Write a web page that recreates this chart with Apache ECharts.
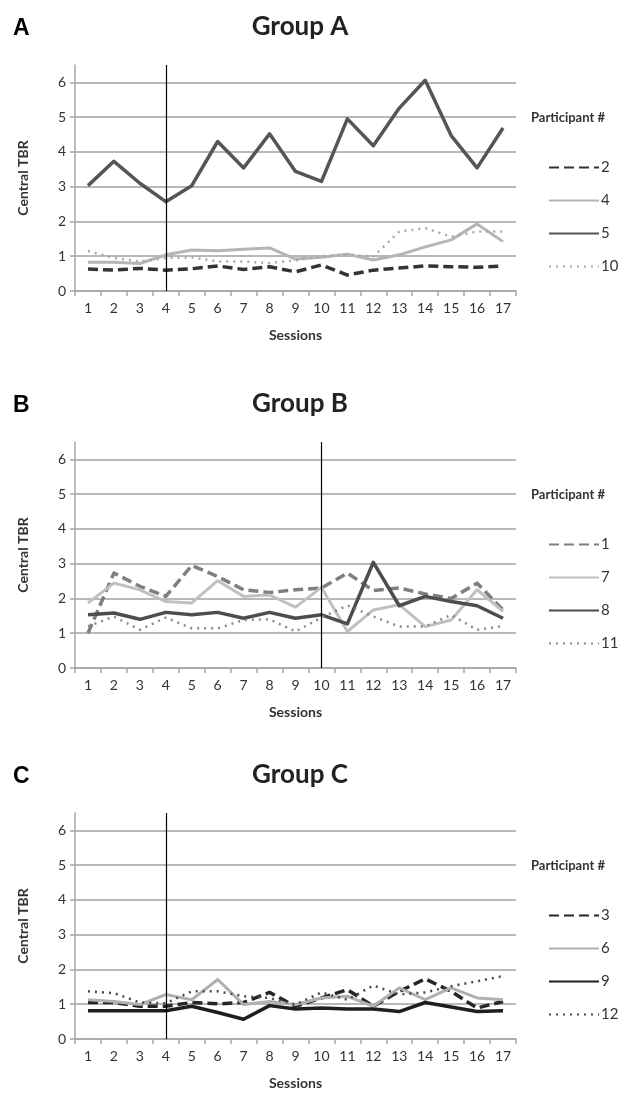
<!DOCTYPE html>
<html>
<head>
<meta charset="utf-8">
<script src="https://cdn.jsdelivr.net/npm/echarts@6/dist/echarts.min.js"></script>
<style>
html,body{margin:0;padding:0;background:#fff;}
#main{width:625px;height:1101px;}
</style>
</head>
<body>
<div id="main"></div>
<script>
// ---- data ----
const sessions = ['1','2','3','4','5','6','7','8','9','10','11','12','13','14','15','16','17'];
const yTicks = [0, 1, 2, 3, 4, 5, 6];

const groupTitles = ['Group A', 'Group B', 'Group C'];
const panelLetters = ['A', 'B', 'C'];
const phaseChange = ['4', '10', '4'];

// Group A
const namesA = ['2', '4', '5', '10'];
const p2  = [0.63,0.60,0.65,0.60,0.64,0.72,0.62,0.70,0.55,0.75,0.46,0.60,0.66,0.72,0.70,0.68,0.72];
const p4  = [0.83,0.83,0.79,1.04,1.18,1.16,1.20,1.24,0.92,0.97,1.06,0.89,1.04,1.27,1.47,1.93,1.42];
const p5  = [3.03,3.73,3.10,2.57,3.03,4.30,3.54,4.52,3.44,3.15,4.95,4.18,5.26,6.06,4.47,3.54,4.69];
const p10 = [1.15,0.95,0.85,0.95,0.97,0.85,0.85,0.80,0.88,1.00,1.05,0.99,1.71,1.81,1.56,1.71,1.71];

// Group B
const namesB = ['1', '7', '8', '11'];
const p1  = [1.00,2.73,2.35,2.06,2.95,2.63,2.25,2.17,2.25,2.30,2.73,2.23,2.30,2.13,2.00,2.44,1.67];
const p7  = [1.87,2.44,2.25,1.91,1.87,2.51,2.06,2.10,1.75,2.32,1.05,1.67,1.82,1.19,1.38,2.25,1.63];
const p8  = [1.53,1.58,1.40,1.60,1.53,1.60,1.43,1.60,1.43,1.53,1.27,3.04,1.79,2.06,1.91,1.79,1.43];
const p11 = [1.20,1.48,1.10,1.45,1.14,1.14,1.38,1.40,1.05,1.45,1.80,1.48,1.19,1.19,1.53,1.10,1.21];

// Group C
const namesC = ['3', '6', '9', '12'];
const p3  = [1.05,1.05,0.94,0.94,1.05,1.01,1.05,1.34,0.94,1.18,1.42,0.94,1.37,1.73,1.37,0.89,1.08];
const p6  = [1.13,1.08,0.99,1.28,1.13,1.71,0.99,1.08,0.99,1.18,1.23,0.94,1.47,1.13,1.47,1.18,1.13];
const p9  = [0.81,0.81,0.81,0.81,0.94,0.76,0.57,0.96,0.86,0.89,0.86,0.86,0.79,1.05,0.92,0.79,0.81];
const p12 = [1.37,1.32,1.05,1.03,1.37,1.37,1.23,1.18,0.99,1.34,1.13,1.54,1.28,1.34,1.52,1.66,1.81];

// ---- styles ----
const panelTops = [65, 442, 813];
const plotH = 226;
const FONT = 'Lato, "Open Sans", sans-serif';

const styleA = [
  {color:'#333333', width:3.5, type:[10,5]},
  {color:'#b5b5b5', width:3,   type:'solid'},
  {color:'#555555', width:3.5, type:'solid'},
  {color:'#a8a8a8', width:2.5, type:[2,5]}
];
const styleB = [
  {color:'#7f7f7f', width:3.5, type:[10,5]},
  {color:'#c0c0c0', width:3,   type:'solid'},
  {color:'#4d4d4d', width:3.5, type:'solid'},
  {color:'#8a8a8a', width:2.5, type:[2,5]}
];
const styleC = [
  {color:'#262626', width:3.5, type:[10,5]},
  {color:'#b0b0b0', width:3,   type:'solid'},
  {color:'#1e1e1e', width:3.5, type:'solid'},
  {color:'#4a4a4a', width:2.5, type:[2,5]}
];

const groups = [
  {names: namesA, data: [p2, p4, p5, p10], styles: styleA},
  {names: namesB, data: [p1, p7, p8, p11], styles: styleB},
  {names: namesC, data: [p3, p6, p9, p12], styles: styleC}
];

const option = {
  animation: false,
  backgroundColor: '#ffffff',
  title: [],
  legend: [],
  grid: [],
  xAxis: [],
  yAxis: [],
  series: []
};

groups.forEach((g, i) => {
  const top = panelTops[i];
  const off = top - panelTops[0];
  option.title.push({
    text: panelLetters[i], left: 8, top: 12 + off,
    textStyle: {fontFamily: '"Liberation Sans", Arial, sans-serif', fontWeight: 'bold', fontSize: 23, color: '#000'}
  });
  option.title.push({
    text: groupTitles[i], left: 295, top: 9 + off, textAlign: 'center',
    textStyle: {fontFamily: FONT, fontWeight: 'bold', fontSize: 26, color: '#222'}
  });
  option.title.push({
    text: 'Participant #', left: 526, top: 106 + off,
    textStyle: {fontFamily: FONT, fontWeight: 'bold', fontSize: 13, color: '#333'}
  });
  option.legend.push({
    orient: 'vertical', left: 543, top: 155 + off,
    itemWidth: 50, itemHeight: 14, itemGap: 18,
    data: g.names,
    itemStyle: {opacity: 0},
    textStyle: {fontFamily: FONT, fontSize: 15, color: '#333', padding: [0,0,0,-3]}
  });
  option.grid.push({left: 75, width: 441, top: top, height: plotH});
  option.xAxis.push({
    type: 'category', gridIndex: i, data: sessions, boundaryGap: true,
    name: 'Sessions', nameLocation: 'middle', nameGap: 37,
    nameTextStyle: {fontFamily: FONT, fontWeight: 'bold', fontSize: 14, color: '#333'},
    axisLine: {lineStyle: {color: '#a6a6a6', width: 1.5}},
    axisTick: {show: true, length: 5, lineStyle: {color: '#a6a6a6', width: 1.5}},
    axisLabel: {fontFamily: FONT, fontSize: 14, color: '#333', margin: 10, interval: 0},
    splitLine: {show: false}
  });
  option.yAxis.push({
    type: 'value', gridIndex: i, min: 0, max: 6.5, interval: 1,
    name: 'Central TBR', nameLocation: 'middle', nameGap: 45,
    nameTextStyle: {fontFamily: FONT, fontWeight: 'bold', fontSize: 14, color: '#333'},
    axisLine: {show: true, lineStyle: {color: '#a6a6a6', width: 1.5}},
    axisTick: {show: true, length: 5, lineStyle: {color: '#a6a6a6', width: 1.5}},
    axisLabel: {fontFamily: FONT, fontSize: 14, color: '#333', margin: 9, showMaxLabel: false},
    splitLine: {show: true, showMaxLine: false, lineStyle: {color: '#a0a0a0', width: 1.5}}
  });
  g.names.forEach((n, k) => {
    const s = g.styles[k];
    const ser = {
      name: n, type: 'line', xAxisIndex: i, yAxisIndex: i,
      data: g.data[k], symbol: 'none', showSymbol: false, smooth: false,
      lineStyle: {color: s.color, width: s.width, type: s.type, cap: 'butt', join: 'round'},
      itemStyle: {color: s.color},
      z: 3
    };
    if (k === 0) {
      ser.markLine = {
        silent: true, symbol: 'none',
        label: {show: false},
        lineStyle: {color: '#000', width: 1.2, type: 'solid'},
        data: [{xAxis: phaseChange[i]}],
        z: 5
      };
    }
    option.series.push(ser);
  });
});

const chart = echarts.init(document.getElementById('main'), null, {renderer: 'canvas'});
chart.setOption(option);
</script>
</body>
</html>
